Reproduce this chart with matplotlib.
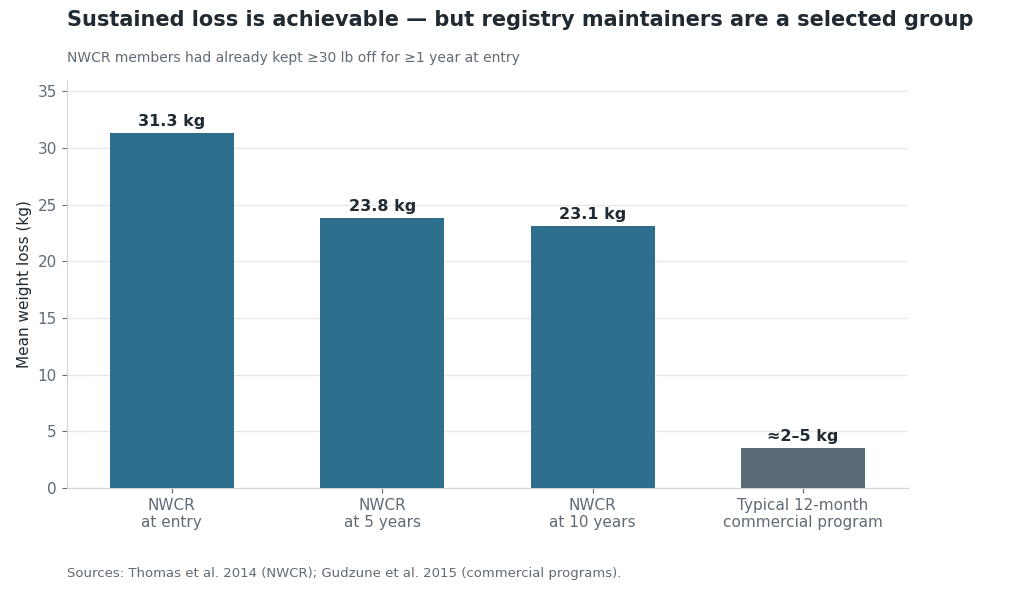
import matplotlib
matplotlib.use("Agg")
import matplotlib.pyplot as plt

categories = ["NWCR\nat entry", "NWCR\nat 5 years", "NWCR\nat 10 years", "Typical 12-month\ncommercial program"]
values = [31.3, 23.8, 23.1, 3.5]
labels = ["31.3 kg", "23.8 kg", "23.1 kg", "≈2–5 kg"]
colors = ["#2e6f8e", "#2e6f8e", "#2e6f8e", "#596a75"]

fig = plt.figure(figsize=(10.24, 5.93), dpi=100)
ax = fig.add_axes([0.065, 0.177, 0.822, 0.688])
x = range(len(categories))
ax.bar(x, values, width=0.59, color=colors, zorder=3)
for i, (v, l) in enumerate(zip(values, labels)):
    ax.text(i, v + 0.4, l, ha="center", va="bottom", fontsize=11.5, fontweight="bold", color="#1f2a33")
ax.set_xticks(list(x))
ax.set_xticklabels(categories, fontsize=11, color="#5f6b76")
ax.set_ylim(0, 36)
ax.set_xlim(-0.5, 3.5)
ax.set_yticks(range(0, 36, 5))
ax.tick_params(axis="y", labelsize=11, colors="#5f6b76")
ax.tick_params(axis="x", colors="#5f6b76")
ax.set_ylabel("Mean weight loss (kg)", fontsize=11, color="#1f2a33")
ax.grid(axis="y", color="#e6e9ec", linewidth=1, zorder=0)
for s in ["top", "right"]:
    ax.spines[s].set_visible(False)
for s in ["left", "bottom"]:
    ax.spines[s].set_color("#cfd4d8")
fig.text(0.065, 0.95, "Sustained loss is achievable — but registry maintainers are a selected group",
         fontsize=15, fontweight="bold", color="#1f2a33", ha="left", va="bottom")
fig.text(0.065, 0.89, "NWCR members had already kept ≥30 lb off for ≥1 year at entry",
         fontsize=10, color="#5f6b76", ha="left", va="bottom")
fig.text(0.065, 0.022, "Sources: Thomas et al. 2014 (NWCR); Gudzune et al. 2015 (commercial programs).",
         fontsize=9.5, color="#5f6b76", ha="left", va="bottom")
fig.savefig("out.png", dpi=100)
